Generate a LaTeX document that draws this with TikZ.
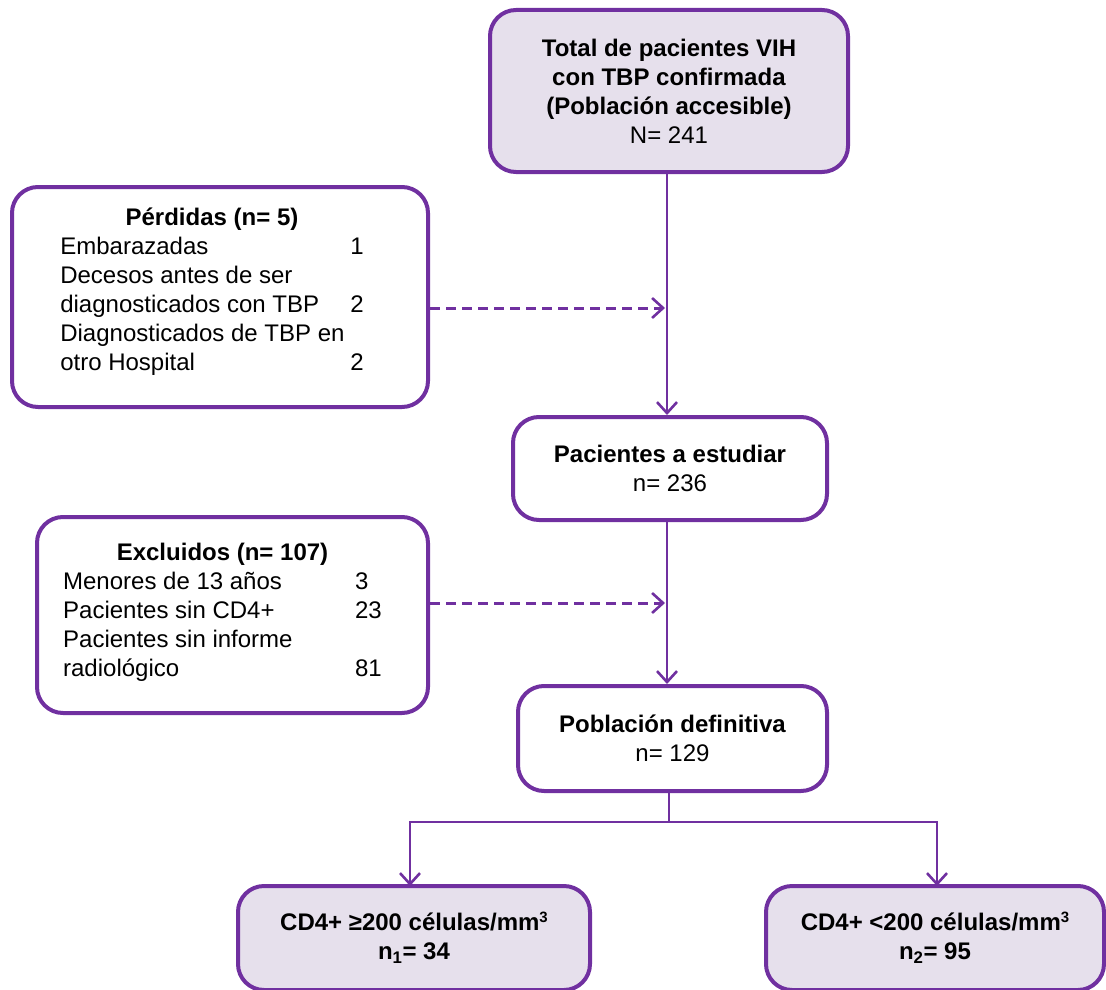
\documentclass[tikz,border=0pt]{standalone}
\usepackage{fontspec}
\setmainfont{Liberation Sans}
\usetikzlibrary{arrows.meta,calc}
\definecolor{vio}{HTML}{7030A0}
\definecolor{lav}{HTML}{E6E0EC}
\newcommand{\cubo}{\raisebox{8pt}{\fontsize{15}{15}\selectfont\bfseries 3}}
\tikzset{
  box/.style={draw=vio, line width=4pt, rounded corners=26pt, inner sep=0pt, align=center,
    font=\fontsize{24}{29}\selectfont},
  shaded/.style={box, fill=lav},
  plain/.style={box, fill=white},
  conn/.style={draw=vio, line width=2.8pt, -{Straight Barb[length=11pt,width=20pt,line width=2.6pt]}},
  dconn/.style={conn, line width=3pt, dash pattern=on 10pt off 6pt},
  line/.style={draw=vio, line width=2.8pt}
}
\begin{document}
\begin{tikzpicture}[x=1pt,y=-1pt]
\useasboundingbox (0,0) rectangle (1106,990);
\node[shaded, minimum width=358pt, minimum height=162pt] (top) at (669,91)
  {\textbf{Total de pacientes VIH}\\ \textbf{con TBP confirmada}\\ \textbf{(Población accesible)}\\ N= 241};
\node[plain, minimum width=416pt, minimum height=220pt] (perd) at (220,297)
  {\begin{tabular}[c]{@{}p{290pt}@{}l@{}}
   \multicolumn{2}{c}{\textbf{Pérdidas (n= 5)}}\\
   Embarazadas & 1\\
   Decesos antes de ser & \\
   diagnosticados con TBP & 2\\
   Diagnosticados de TBP en & \\
   otro Hospital & 2\\[10pt]
   \end{tabular}\hspace*{16pt}};
\node[plain, minimum width=314pt, minimum height=103pt] (est) at (670,468.5)
  {\textbf{Pacientes a estudiar}\\ n= 236};
\node[plain, minimum width=391pt, minimum height=196pt] (excl) at (232.5,615)
  {\begin{tabular}[c]{@{}p{292pt}@{}l@{}}
   \multicolumn{2}{c}{\textbf{Excluidos (n= 107)}}\\
   Menores de 13 años & 3\\
   Pacientes sin CD4+ & 23\\
   Pacientes sin informe & \\
   radiológico & 81\\[4pt]
   \end{tabular}\hspace*{20pt}};
\node[plain, minimum width=309pt, minimum height=105pt] (pob) at (672.5,738.5)
  {\textbf{Población definitiva}\\ n= 129};
\node[shaded, minimum width=352pt, minimum height=104pt] (cd1) at (414,938)
  {\textbf{CD4+ ≥200 células/mm}\cubo\\ \textbf{n\textsubscript{1}= 34}};
\node[shaded, minimum width=338pt, minimum height=104pt] (cd2) at (935,938)
  {\textbf{CD4+ <200 células/mm}\cubo\\ \textbf{n\textsubscript{2}= 95}};
% main flow
\draw[conn] (667,172) coordinate (a1) -- (a1 |- est.north);
\draw[conn] (667,520) coordinate (a2) -- (a2 |- pob.north);
% dashed side arrows
\coordinate (d1) at (667,308);
\coordinate (d2) at (667,603);
\draw[dconn, shorten >=2pt] (perd.east |- d1) -- (d1);
\draw[dconn, shorten >=2pt] (excl.east |- d2) -- (d2);
% branch
\coordinate (br) at (669,822);
\draw[line] (br |- pob.south) -- (br);
\draw[conn] (br) -| (410,886) coordinate (c1);
\draw[conn] (br) -| (937,886) coordinate (c2);
\end{tikzpicture}
\end{document}
